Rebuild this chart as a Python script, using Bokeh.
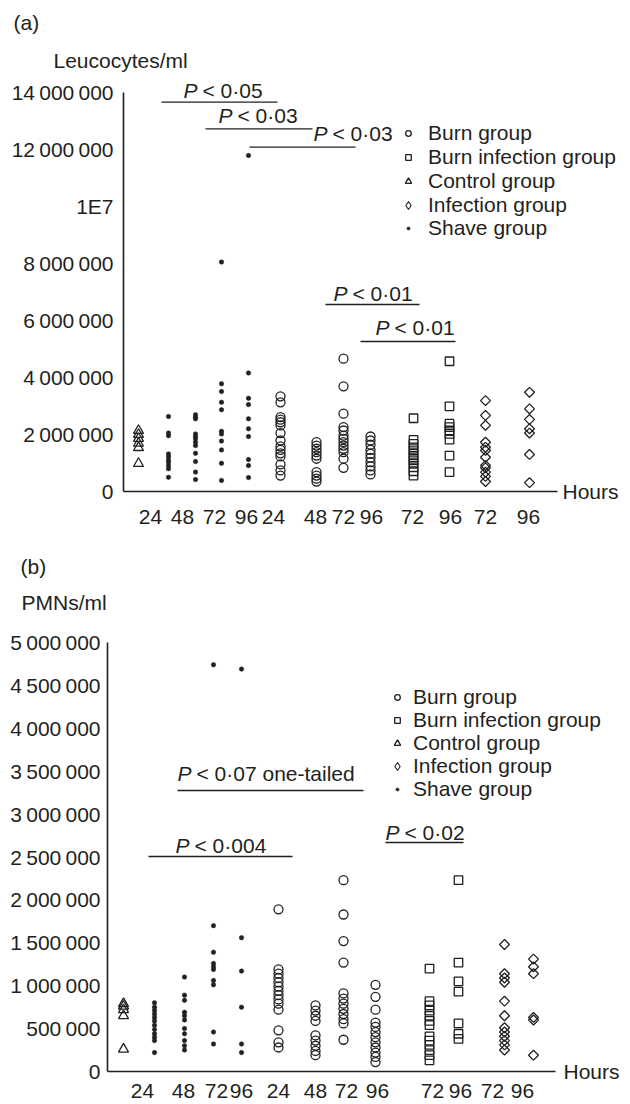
from bokeh.plotting import figure
from bokeh.models import Range1d, FixedTicker, Label, Legend, LegendItem
from bokeh.layouts import column
from bokeh.embed import file_html
from bokeh.resources import INLINE
import math

# ---------------- data (values in millions of cells / ml) ----------------
groups = ["Burn group", "Burn infection group", "Control group", "Infection group", "Shave group"]
hour_labels = ["24", "48", "72", "96", "24", "48", "72", "96", "72", "96", "72", "96"]
column_group = (["Control group"] + ["Shave group"] * 4 + ["Burn group"] * 4
                + ["Burn infection group"] * 2 + ["Infection group"] * 2)

# (a) Leucocytes/ml
leuco_control_24 = [2.14, 2.00, 1.86, 1.69, 1.54, 0.98]
leuco_shave_24 = [2.63, 2.05, 1.96, 1.32, 1.23, 1.11, 1.03, 0.91, 0.80, 0.50]
leuco_shave_48 = [2.69, 2.61, 2.55, 2.02, 1.93, 1.85, 1.73, 1.61, 1.34, 1.05, 0.68, 0.42]
leuco_shave_72 = [8.05, 3.78, 3.51, 3.13, 2.87, 2.11, 2.02, 1.77, 1.46, 0.99, 0.39]
leuco_shave_96 = [11.79, 4.16, 3.27, 3.05, 2.55, 2.20, 1.93, 1.12, 0.91, 0.49]
leuco_burn_24 = [3.34, 3.13, 2.61, 2.52, 2.43, 2.32, 2.05, 1.79, 1.58, 1.46, 1.34, 1.23, 0.95, 0.74, 0.56]
leuco_burn_48 = [1.73, 1.61, 1.50, 1.38, 1.26, 1.15, 0.68, 0.56, 0.45, 0.35]
leuco_burn_72 = [4.66, 3.69, 2.73, 2.26, 2.14, 1.96, 1.85, 1.73, 1.61, 1.50, 1.38, 1.15, 0.83]
leuco_burn_96 = [1.93, 1.79, 1.64, 1.46, 1.32, 1.18, 1.03, 0.88, 0.74, 0.60]
leuco_burninf_72 = [2.57, 1.81, 1.67, 1.55, 1.44, 1.32, 1.20, 1.09, 0.97, 0.85, 0.71, 0.56]
leuco_burninf_96 = [4.57, 2.99, 2.38, 2.26, 2.14, 2.02, 1.82, 1.26, 0.68]
leuco_inf_72 = [3.19, 2.67, 2.32, 1.73, 1.55, 1.44, 1.20, 0.91, 0.83, 0.68, 0.53, 0.35]
leuco_inf_96 = [3.48, 2.90, 2.53, 2.20, 2.05, 1.30, 0.31]

# (b) PMNs/ml
pmn_control_24 = [0.79, 0.76, 0.72, 0.65, 0.26]
pmn_shave_24 = [0.80, 0.75, 0.71, 0.67, 0.63, 0.59, 0.54, 0.49, 0.44, 0.40, 0.36, 0.22]
pmn_shave_48 = [1.10, 0.89, 0.83, 0.69, 0.65, 0.60, 0.50, 0.44, 0.36, 0.30, 0.25]
pmn_shave_72 = [4.74, 1.70, 1.39, 1.26, 1.22, 1.19, 1.06, 1.01, 0.46, 0.32]
pmn_shave_96 = [4.69, 1.56, 1.17, 0.75, 0.32, 0.22]
pmn_burn_24 = [1.89, 1.19, 1.14, 1.09, 1.04, 0.99, 0.94, 0.89, 0.84, 0.79, 0.72, 0.48, 0.34, 0.28]
pmn_burn_48 = [0.77, 0.71, 0.65, 0.59, 0.42, 0.36, 0.30, 0.24, 0.19]
pmn_burn_72 = [2.23, 1.83, 1.52, 1.27, 0.91, 0.85, 0.79, 0.73, 0.67, 0.61, 0.56, 0.37]
pmn_burn_96 = [1.01, 0.87, 0.72, 0.57, 0.52, 0.46, 0.40, 0.34, 0.28, 0.22, 0.17, 0.11]
pmn_burninf_72 = [1.20, 0.82, 0.77, 0.71, 0.65, 0.59, 0.54, 0.41, 0.36, 0.31, 0.25, 0.19, 0.13]
pmn_burninf_96 = [2.23, 1.27, 1.05, 0.93, 0.56, 0.44, 0.38]
pmn_inf_72 = [1.48, 1.14, 1.09, 1.04, 0.82, 0.65, 0.51, 0.46, 0.41, 0.36, 0.31, 0.25]
pmn_inf_96 = [1.31, 1.22, 1.14, 0.63, 0.60, 0.19]

leuco_columns = [leuco_control_24, leuco_shave_24, leuco_shave_48, leuco_shave_72, leuco_shave_96,
                 leuco_burn_24, leuco_burn_48, leuco_burn_72, leuco_burn_96,
                 leuco_burninf_72, leuco_burninf_96, leuco_inf_72, leuco_inf_96]
pmn_columns = [pmn_control_24, pmn_shave_24, pmn_shave_48, pmn_shave_72, pmn_shave_96,
               pmn_burn_24, pmn_burn_48, pmn_burn_72, pmn_burn_96,
               pmn_burninf_72, pmn_burninf_96, pmn_inf_72, pmn_inf_96]

leuco_ticks = [0, 2000000, 4000000, 6000000, 8000000, 10000000, 12000000, 14000000]
leuco_tick_text = ["0", "2\u2009000\u2009000", "4\u2009000\u2009000", "6\u2009000\u2009000",
                   "8\u2009000\u2009000", "1E7", "12\u2009000\u2009000", "14\u2009000\u2009000"]
pmn_ticks = [0, 500000, 1000000, 1500000, 2000000, 2500000, 3000000, 3500000, 4000000, 4500000, 5000000]
pmn_tick_text = ["0", "500\u2009000", "1\u2009000\u2009000", "1\u2009500\u2009000", "2\u2009000\u2009000",
                 "2\u2009500\u2009000", "3\u2009000\u2009000", "3\u2009500\u2009000", "4\u2009000\u2009000",
                 "4\u2009500\u2009000", "5\u2009000\u2009000"]

# ---------------- layout / style ----------------
FONT = "Liberation Sans"
INK = "#231f20"
FS = "21px"
W = 630

# category slot positions along the x axis (axis units = px from the y axis)
POS_A = [15, 45, 72, 98, 125, 157, 193, 220, 247, 290, 326, 362, 406]
TICKPOS_A = [27, 59, 91, 123, 150, 192, 220, 248, 289, 327, 362, 405]
POS_B = [16, 47, 77, 106, 134, 171, 208, 236, 268, 322, 351, 397, 426]
TICKPOS_B = [35, 76, 109, 134, 171, 208, 239, 270, 325, 353, 385, 415]

LW = 1.3
MARKERS = {
    "Burn group": dict(marker="circle", size=9, fill_color=None, line_color=INK, line_width=LW),
    "Burn infection group": dict(marker="square", size=8.5, fill_color=None, line_color=INK, line_width=LW),
    "Control group": dict(marker="triangle", size=10, fill_color=None, line_color=INK, line_width=LW),
    "Infection group": dict(marker="square", angle=math.pi / 4, size=7, fill_color=None, line_color=INK,
                            line_width=LW),
    "Shave group": dict(marker="circle", size=4.5, fill_color=INK, line_color=INK, line_width=0.5),
}
# legend-only symbol (the legend draws markers unrotated, so the diamond gets its own key glyph)
LEG_MARK = {"Infection group": dict(marker="diamond", fill_color=None, line_color=INK, line_width=1.1)}
# the legend draws each symbol at 0.4 * its box
LEG_BOX = {"Burn group": 14, "Burn infection group": 14, "Control group": 16,
           "Infection group": 20, "Shave group": 8}


class Panel:
    def __init__(self, top, height, x0, y0, px_per_unit):
        self.top, self.height, self.x0, self.y0, self.k = top, height, x0, y0, px_per_unit

    def x(self, px):
        return px - self.x0

    def y(self, py):
        return (self.y0 - py) / self.k


def make_panel(pan, xlen, ytop, columns, pos, tickpos, ticks, tick_text, ystand, xstand):
    bottom = pan.top + pan.height
    p = figure(width=W, height=pan.height, output_backend="svg", toolbar_location=None,
               x_range=Range1d(pan.x(0), pan.x(W)), y_range=Range1d(pan.y(bottom), pan.y(pan.top)),
               min_border_left=0, min_border_right=0, min_border_top=0, min_border_bottom=0)
    p.grid.visible = False
    p.outline_line_color = None
    p.background_fill_color = "white"
    p.border_fill_color = "white"

    ax = p.yaxis[0]
    ax.fixed_location = 0
    ax.ticker = FixedTicker(ticks=ticks)
    ax.major_label_overrides = {t: s for t, s in zip(ticks, tick_text)}
    ax.bounds = (0, ytop)
    bx = p.xaxis[0]
    bx.fixed_location = 0
    bx.ticker = FixedTicker(ticks=tickpos)
    bx.major_label_overrides = {t: s for t, s in zip(tickpos, hour_labels)}
    bx.bounds = (0, xlen)
    for a, st in ((ax, ystand), (bx, xstand)):
        a.axis_line_color = INK
        a.axis_line_width = 1.6
        a.major_tick_line_color = None
        a.minor_tick_line_color = None
        a.major_tick_out = 0
        a.major_tick_in = 0
        a.major_label_standoff = st
        a.major_label_text_font = FONT
        a.major_label_text_font_size = FS
        a.major_label_text_color = INK

    xs = {g: [] for g in groups}
    ys = {g: [] for g in groups}
    for vals, x, g in zip(columns, pos, column_group):
        for v in vals:
            xs[g].append(x)
            ys[g].append(v * 1e6)
    renderers = {g: p.scatter(xs[g], ys[g], **MARKERS[g]) for g in groups}
    legend_renderers = dict(renderers)
    for g, style in LEG_MARK.items():
        # key glyph only: a single undefined (NaN) point, never drawn in the plot area
        legend_renderers[g] = p.scatter([float("nan")], [float("nan")], **style)
    return p, legend_renderers


def add_legend(p, pan, renderers, sym_x, text_x, rows):
    bottom = pan.top + pan.height
    for g, cy in zip(groups, rows):
        box = LEG_BOX[g]
        leg = Legend(items=[LegendItem(label=g, renderers=[renderers[g]])],
                     location=(sym_x - box // 2, bottom - (cy + 12)),
                     label_text_font=FONT, label_text_font_size=FS, label_text_color=INK,
                     glyph_width=box, glyph_height=box,
                     label_standoff=int(text_x - sym_x - box // 2),
                     spacing=0, padding=0, margin=0, label_height=24,
                     border_line_alpha=0, background_fill_alpha=0)
        p.add_layout(leg)


def text(p, x, y, s, italic=False):
    p.add_layout(Label(x=x, y=y, text=s, text_font=FONT, text_font_size=FS, text_color=INK,
                       text_baseline="middle", text_align="left",
                       text_font_style="italic" if italic else "normal"))


def annotate(p, pan, items):
    for (tx, ty, rest, lx0, lx1, ly) in items:
        text(p, pan.x(tx), pan.y(ty), "P", italic=True)
        text(p, pan.x(tx + 19), pan.y(ty), rest)
        p.segment(x0=[pan.x(lx0)], y0=[pan.y(ly)], x1=[pan.x(lx1)], y1=[pan.y(ly)],
                  line_color=INK, line_width=1.3)


# ---------------- panel (a) ----------------
A = Panel(top=0, height=546, x0=123, y0=491, px_per_unit=28.5 / 1e6)
pa, ra = make_panel(A, 434, 14000000, leuco_columns, POS_A, TICKPOS_A,
                    leuco_ticks, leuco_tick_text, 10, 18)
text(pa, A.x(13), A.y(22), "(a)")
text(pa, A.x(53), A.y(60), "Leucocytes/ml")
text(pa, A.x(562), A.y(491), "Hours")
annotate(pa, A, [
    (183, 90, "< 0\u00b705", 161, 277, 101.7),
    (218, 115, "< 0\u00b703", 205, 312, 128.3),
    (313, 133, "< 0\u00b703", 249, 355, 146.7),
    (333, 293, "< 0\u00b701", 325, 419, 304),
    (375, 327, "< 0\u00b701", 360, 455, 341),
])
add_legend(pa, A, ra, 408, 428, [133, 157, 181, 205, 228])

# ---------------- panel (b) ----------------
B = Panel(top=546, height=556, x0=107, y0=1071, px_per_unit=85.8 / 1e6)
pb, rb = make_panel(B, 448, 5000000, pmn_columns, POS_B, TICKPOS_B,
                    pmn_ticks, pmn_tick_text, 7, 12)
text(pb, B.x(20), B.y(566), "(b)")
text(pb, B.x(21), B.y(602), "PMNs/ml")
text(pb, B.x(563), B.y(1071), "Hours")
annotate(pb, B, [
    (177, 773, "< 0\u00b707 one-tailed", 177, 363, 790),
    (175, 845, "< 0\u00b7004", 148, 292, 856),
    (385, 832, "< 0\u00b702", 385, 463, 842),
])
add_legend(pb, B, rb, 397, 413, [697, 720, 743, 766, 789])

layout = column(pa, pb, spacing=0)
open("out.html", "w").write(file_html(layout, INLINE))
